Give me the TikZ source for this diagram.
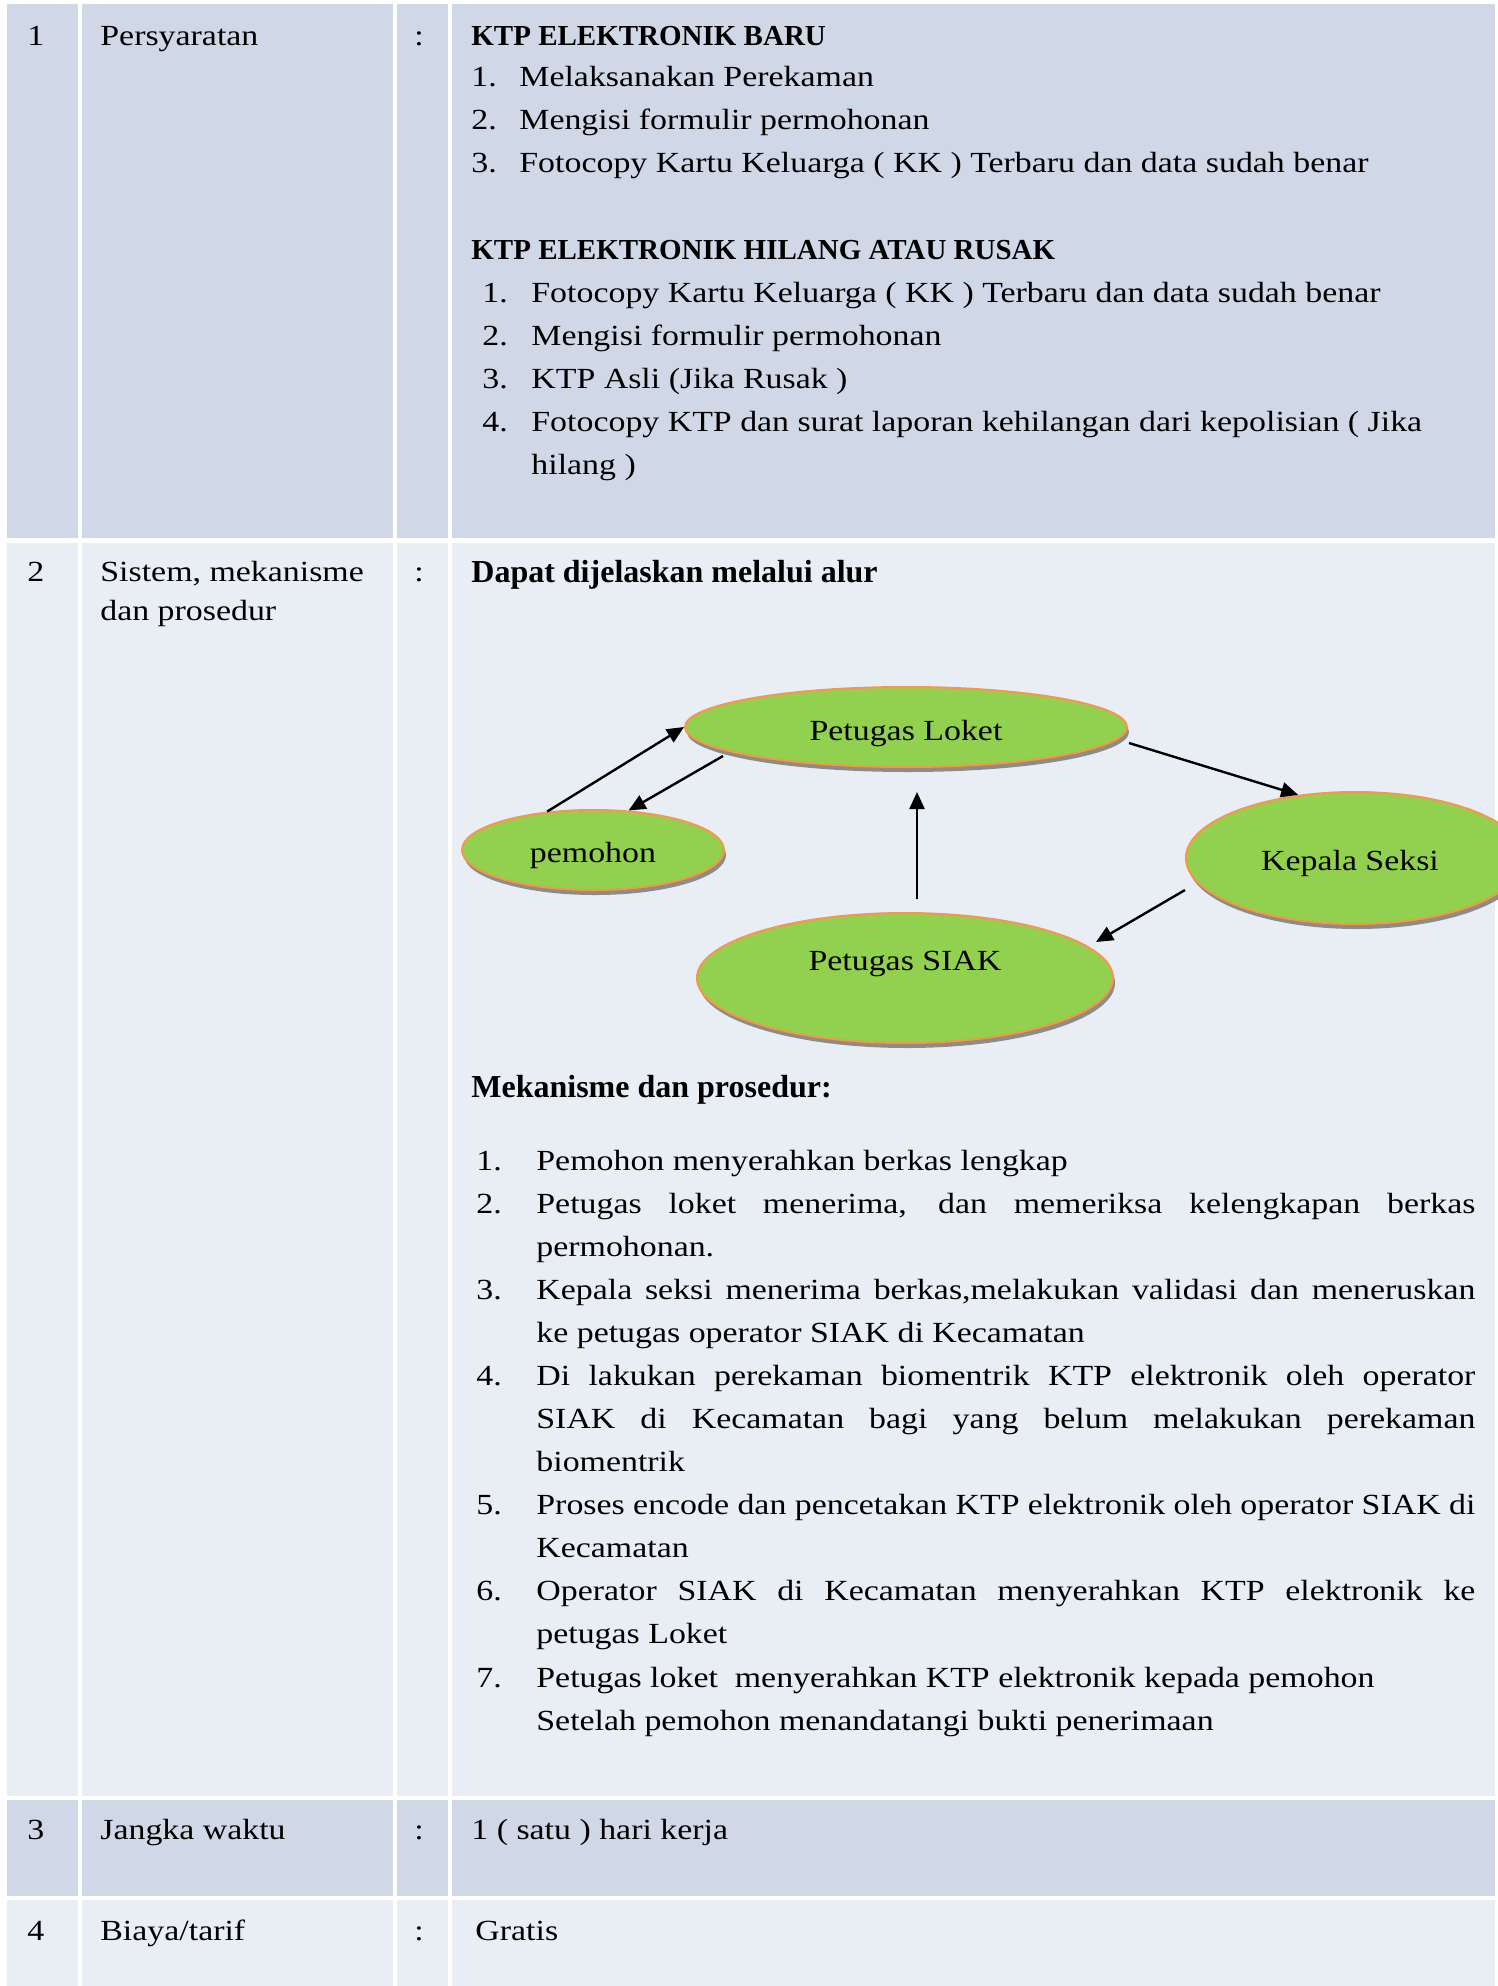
\documentclass[tikz,border=0pt]{standalone}
\usepackage{fontspec}
\setmainfont{Liberation Serif}[FakeStretch=1.16]
\newfontfamily\tnr{Liberation Serif}
\usetikzlibrary{shapes.geometric,arrows.meta,shadows,calc}
\definecolor{rowA}{HTML}{D0D8E8}
\definecolor{rowB}{HTML}{E9EDF4}
\definecolor{ellgreen}{HTML}{92D050}
\definecolor{ellorange}{HTML}{F79646}
\definecolor{shadowgray}{HTML}{8C8C8C}
\newcommand{\shiftv}[2]{\raisebox{#1}[\height][\depth]{#2}}
\begin{document}
\begin{tikzpicture}[x=0.5pt,y=-0.5pt,
  txt/.style={anchor=base west, inner sep=0pt, font=\fontsize{14.6}{20}\selectfont},
  hd/.style={anchor=base west, inner sep=0pt, font=\tnr\bfseries\fontsize{14.5}{20}\selectfont},
  hdtnr/.style={anchor=base west, inner sep=0pt, font=\tnr\bfseries\fontsize{16}{20}\selectfont},
  ell/.style={ellipse, draw=ellorange, line width=1pt, fill=ellgreen, inner sep=0pt,
    font=\fontsize{14.6}{20}\selectfont,
    drop shadow={shadow xshift=1pt, shadow yshift=-2.5pt, fill=shadowgray, opacity=1}},
  arr/.style={line width=1.2pt, -{Triangle[length=8.5pt,width=7.5pt]}}
]
\useasboundingbox (0,0) rectangle (1498,1986);
\fill[white] (0,0) rectangle (1498,1986);
% row 1
\fill[rowA] (7,4) rectangle (78,538);
\fill[rowA] (82,4) rectangle (393,538);
\fill[rowA] (397,4) rectangle (448,538);
\fill[rowA] (452,4) rectangle (1495,538);
% row 2
\fill[rowB] (7,543) rectangle (78,1796);
\fill[rowB] (82,543) rectangle (393,1796);
\fill[rowB] (397,543) rectangle (448,1796);
\fill[rowB] (452,543) rectangle (1495,1796);
% row 3
\fill[rowA] (7,1800) rectangle (78,1896);
\fill[rowA] (82,1800) rectangle (393,1896);
\fill[rowA] (397,1800) rectangle (448,1896);
\fill[rowA] (452,1800) rectangle (1495,1896);
% row 4
\fill[rowB] (7,1900) rectangle (78,1986);
\fill[rowB] (82,1900) rectangle (393,1986);
\fill[rowB] (397,1900) rectangle (448,1986);
\fill[rowB] (452,1900) rectangle (1495,1986);

% ---- row 1 text
\node[txt] (n1) at (27,45) {1};
\node[txt] (l1) at (100,45) {Persyaratan};
\node[txt] (c1) at (414,45) {:};
\node[hd] (h1) at (471,45) {KTP ELEKTRONIK BARU};
\node[txt] (a1n) at (471,86) {1.};  \node[txt] (a1) at (519,86) {Melaksanakan Perekaman};
\node[txt] (a2n) at (471,129) {2.}; \node[txt] (a2) at (519,129) {Mengisi formulir permohonan};
\node[txt] (a3n) at (471,172) {3.}; \node[txt] (a3) at (519,172) {Fotocopy Kartu Keluarga ( KK ) Terbaru dan data sudah benar};
\node[hd] (h2) at (471,259) {KTP ELEKTRONIK HILANG ATAU RUSAK};
\node[txt] (b1n) at (482,302) {1.}; \node[txt] (b1) at (531,302) {Fotocopy Kartu Keluarga ( KK ) Terbaru dan data sudah benar};
\node[txt] (b2n) at (482,345) {2.}; \node[txt] (b2) at (531,345) {Mengisi formulir permohonan};
\node[txt] (b3n) at (482,388) {3.}; \node[txt] (b3) at (531,388) {KTP Asli (Jika Rusak )};
\node[txt] (b4n) at (482,431) {4.}; \node[txt] (b4) at (531,431) {Fotocopy KTP dan surat laporan kehilangan dari kepolisian ( Jika};
\node[txt] (b4b) at (531,474) {hilang )};

% ---- row 2 text
\node[txt] (n2) at (27,581) {2};
\node[txt] (l2) at (100,581) {Sistem, mekanisme};
\node[txt] (l2b) at (100,620) {dan prosedur};
\node[txt] (c2) at (414,581) {:};
\node[hdtnr] (h3) at (471,582) {Dapat dijelaskan melalui alur};

% diagram
\node[ell, minimum width=221pt, minimum height=40pt] (loket) at (906,727) {\shiftv{-3.2pt}{Petugas Loket}};
\node[ell, minimum width=131pt, minimum height=40pt] (pemohon) at (593,850) {\shiftv{-2.5pt}{pemohon}};
\node[ell, minimum width=208pt, minimum height=65pt] (siak) at (905,978) {\shiftv{7pt}{Petugas SIAK}};
\node[ell, minimum width=169pt, minimum height=66pt] (kepala) at (1355,858) {\hspace*{-5pt}\shiftv{-2.5pt}{Kepala Seksi}};

\draw[arr] (pemohon.140) -- (loket.west);
\draw[arr] ($(loket.center)+(-183,29)$) -- (pemohon.48);
\draw[arr] ($(siak.north)+(12,-13)$) -- ($(loket.south)+(11,24)$);
\draw[arr] ($(loket.east)+(1,16)$) -- (kepala.132);
\draw[arr] ($(kepala.west)+(0,32)$) -- ($(siak.center)+(191,-36)$);

\node[hdtnr] (h4) at (471,1097) {Mekanisme dan prosedur:};

\node[txt] (m1n) at (476,1170) {1.}; \node[txt] (m1) at (536,1170) {Pemohon menyerahkan berkas lengkap};
\node[txt] (m2n) at (476,1213) {2.}; \node[txt] (m2) at (536,1213) {\makebox[469.5pt][s]{Petugas loket menerima, dan memeriksa kelengkapan berkas}};
\node[txt] (m2b) at (536,1256) {permohonan.};
\node[txt] (m3n) at (476,1299) {3.}; \node[txt] (m3) at (536,1299) {\makebox[469.5pt][s]{Kepala seksi menerima berkas,melakukan validasi dan meneruskan}};
\node[txt] (m3b) at (536,1342) {ke petugas operator SIAK di Kecamatan};
\node[txt] (m4n) at (476,1385) {4.}; \node[txt] (m4) at (536,1385) {\makebox[469.5pt][s]{Di lakukan perekaman biomentrik KTP elektronik oleh operator}};
\node[txt] (m4b) at (536,1428) {\makebox[469.5pt][s]{SIAK di Kecamatan bagi yang belum melakukan perekaman}};
\node[txt] (m4c) at (536,1471) {biomentrik};
\node[txt] (m5n) at (476,1514) {5.}; \node[txt] (m5) at (536,1514) {\makebox[469.5pt][s]{Proses encode dan pencetakan KTP elektronik oleh operator SIAK di}};
\node[txt] (m5b) at (536,1557) {Kecamatan};
\node[txt] (m6n) at (476,1600) {6.}; \node[txt] (m6) at (536,1600) {\makebox[469.5pt][s]{Operator SIAK di Kecamatan menyerahkan KTP elektronik ke}};
\node[txt] (m6b) at (536,1643) {petugas Loket};
\node[txt] (m7n) at (476,1687) {7.}; \node[txt] (m7) at (536,1687) {Petugas loket\ \ menyerahkan KTP elektronik kepada pemohon};
\node[txt] (m7b) at (536,1730) {Setelah pemohon menandatangi bukti penerimaan};

% ---- row 3
\node[txt] (n3) at (27,1839) {3};
\node[txt] (l3) at (100,1839) {Jangka waktu};
\node[txt] (c3) at (414,1839) {:};
\node[txt] (v3) at (471,1839) {1 ( satu ) hari kerja};
% ---- row 4
\node[txt] (n4) at (27,1940) {4};
\node[txt] (l4) at (100,1940) {Biaya/tarif};
\node[txt] (c4) at (414,1940) {:};
\node[txt] (v4) at (475,1940) {Gratis};
\end{tikzpicture}
\end{document}
